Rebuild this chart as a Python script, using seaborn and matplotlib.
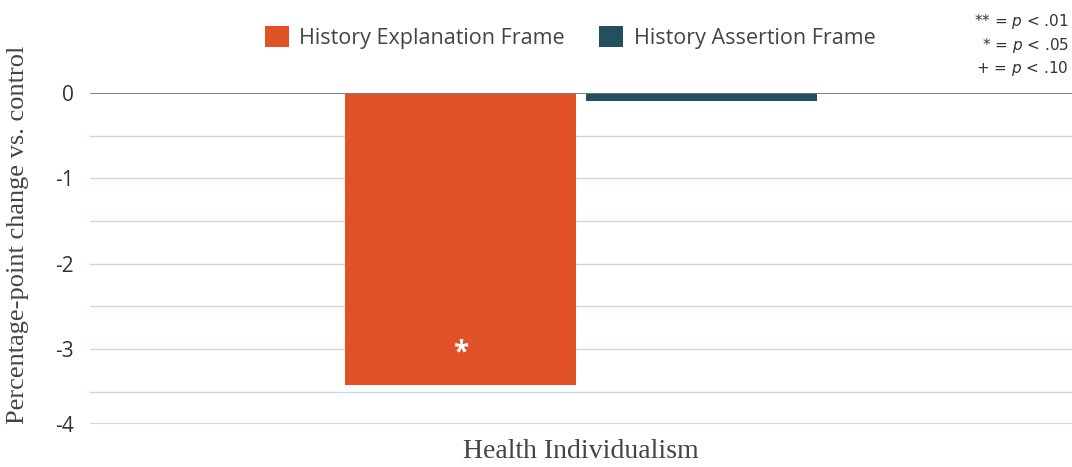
import matplotlib
matplotlib.use("Agg")
import matplotlib.pyplot as plt
import seaborn as sns
import pandas as pd

# ----------------------------
# Data
# ----------------------------
categories = ["Health Individualism"]
frames = ["History Explanation Frame", "History Assertion Frame"]
values = [-3.42, -0.09]
sig_marks = ["*", ""]
colors = ["#E05128", "#244F5F"]

df = pd.DataFrame({
    "category": categories * len(frames),
    "frame": frames,
    "value": values,
})

sns.set_theme(style="white")
plt.rcParams["font.family"] = ["Open Sans", "DejaVu Sans"]

fig = plt.figure(figsize=(10.72, 4.67), dpi=100)
ax = fig.add_axes([0.084, 0.092, 0.916, 0.709])

sns.barplot(data=df, x="category", y="value", hue="frame", palette=colors,
            width=0.49, gap=0.04, saturation=1, linewidth=0, ax=ax, legend=True)

ax.set_xlim(-0.5, 0.5)
ax.set_ylim(-3.88, 0)

# gridlines every 0.5
for y in [-0.5, -1, -1.5, -2, -2.5, -3, -3.5]:
    ax.axhline(y, color="#C8D8EA", linewidth=1, zorder=0)
ax.axhline(0, color="#777777", linewidth=1.3, zorder=3)
ax.axhline(-3.88, color="#C8D8EA", linewidth=1.5, zorder=0)

ax.set_yticks([0, -1, -2, -3, -3.88])
ax.set_yticklabels(["0", "-1", "-2", "-3", "-4"])
ax.tick_params(axis="y", labelsize=15, labelcolor="#333333", length=0, pad=12)
ax.set_xticks([])
for s in ax.spines.values():
    s.set_visible(False)

ax.set_xlabel(categories[0], family=["Liberation Serif", "DejaVu Serif"],
              fontsize=20, color="#444444", labelpad=11)
ax.set_ylabel("Percentage-point change vs. control",
              family=["Liberation Serif", "DejaVu Serif"],
              fontsize=19, color="#444444")
ax.yaxis.set_label_coords(-0.062, 0.57)

# significance marks inside bars
for patch, mark in zip(ax.patches, sig_marks):
    if mark:
        xc = patch.get_x() + patch.get_width() / 2
        ax.text(xc, patch.get_height() + 0.37, mark, ha="center", va="center",
                color="white", fontsize=20, fontweight="bold", zorder=5)

handles, labels = ax.get_legend_handles_labels()
ax.legend_.remove()
fig.legend(handles, labels, loc="center", bbox_to_anchor=(0.532, 0.92), ncol=2,
           frameon=False, fontsize=15.5, handlelength=1.1, handleheight=1.1,
           handletextpad=0.5, columnspacing=1.6, labelcolor="#444444")

fig.text(0.997, 0.975, "** = $\\it{p}$ < .01\n* = $\\it{p}$ < .05\n+ = $\\it{p}$ < .10",
         ha="right", va="top", fontsize=11, color="#333333", linespacing=1.35,
         family=["DejaVu Sans"])

fig.savefig("out.png", dpi=100)
